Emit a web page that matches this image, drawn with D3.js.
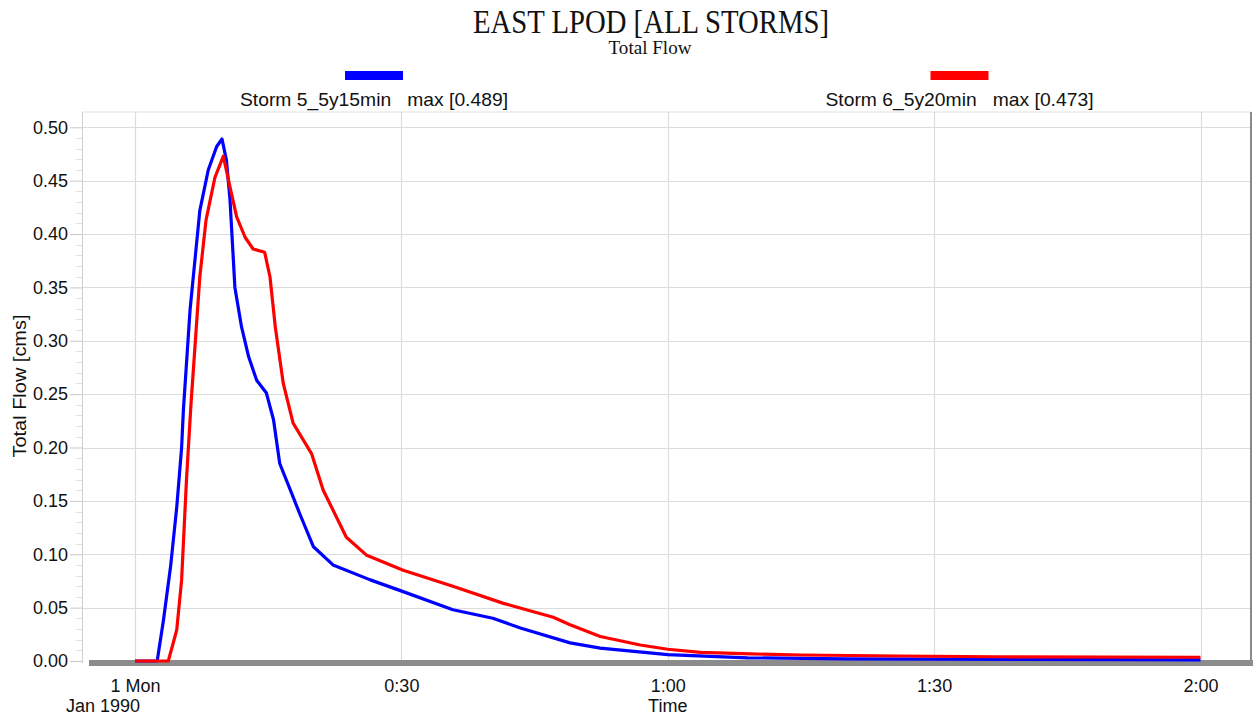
<!DOCTYPE html>
<html>
<head>
<meta charset="utf-8">
<script src="https://cdn.jsdelivr.net/npm/d3@7"></script>
<style>
  body { margin: 0; background: #fff; }
  svg { display: block; }
</style>
</head>
<body>
<svg id="chart" width="1255" height="715"></svg>
<script>
// ---- data (minutes after 1 Mon Jan 1990 00:00, flow in cms) ----
const blueTimes = [0, 2.5, 3.2, 4.0, 4.7, 5.25, 5.45, 6.2, 7.3, 8.25, 9.2, 9.8, 10.3, 10.7, 11.25, 12.0, 12.8, 13.7, 14.8, 15.6, 16.3, 17.5, 18.6, 20.1, 22.3, 26.5, 30.2, 35.8, 40.3, 43.4, 49.0, 52.4, 60, 69, 80, 100, 120];
const blueValues = [0, 0, 0.038, 0.088, 0.144, 0.200, 0.235, 0.329, 0.422, 0.460, 0.482, 0.489, 0.469, 0.432, 0.350, 0.313, 0.285, 0.263, 0.251, 0.226, 0.185, 0.160, 0.137, 0.107, 0.090, 0.076, 0.065, 0.048, 0.040, 0.031, 0.017, 0.012, 0.006, 0.003, 0.002, 0.0015, 0.001];
const redTimes = [0, 3.75, 4.7, 5.25, 5.8, 6.3, 7.3, 8.0, 9.0, 9.95, 10.7, 11.45, 12.4, 13.3, 14.6, 15.2, 15.8, 16.7, 17.8, 19.9, 21.2, 23.8, 26.1, 30.2, 35.8, 41.5, 47.1, 49.0, 52.4, 56.9, 60, 63.7, 69.4, 75, 86, 97, 120];
const redValues = [0, 0, 0.029, 0.076, 0.170, 0.240, 0.360, 0.413, 0.453, 0.473, 0.444, 0.416, 0.397, 0.386, 0.383, 0.360, 0.313, 0.260, 0.223, 0.194, 0.160, 0.116, 0.099, 0.085, 0.070, 0.054, 0.041, 0.034, 0.023, 0.015, 0.011, 0.008, 0.0066, 0.0056, 0.0047, 0.004, 0.0035];
const seriesNames = ["Storm 5_5y15min   max [0.489]", "Storm 6_5y20min   max [0.473]"];
const seriesColors = ["#0000ff", "#ff0000"];
const yTicks = [0, 0.05, 0.10, 0.15, 0.20, 0.25, 0.30, 0.35, 0.40, 0.45, 0.50];
const xTicks = [0, 30, 60, 90, 120];
const xTickLabels = ["1 Mon", "0:30", "1:00", "1:30", "2:00"];
const titleText = "EAST LPOD [ALL STORMS]";
const subtitleText = "Total Flow";
const yAxisTitle = "Total Flow [cms]";
const xAxisTitle = "Time";
const dateLabel = "Jan 1990";

(function () {
// ---- layout ----
const svg = d3.select("#chart");
const pLeft = 82, pRight = 1251, pTop = 112, pBottom = 661;
const x = d3.scaleLinear().domain([0, 120]).range([135, 1200.5]);
const y = d3.scaleLinear().domain([0, 0.5]).range([pBottom, 127.3]);
const sans = "Liberation Sans, Arial, sans-serif";
const serif = "Liberation Serif, Times New Roman, serif";

// plot frame top line
svg.append("line").attr("x1", pLeft).attr("x2", pRight).attr("y1", pTop).attr("y2", pTop)
  .attr("stroke", "#e0e0e0").attr("stroke-width", 1);

// horizontal gridlines
svg.append("g").selectAll("line").data(yTicks.filter(d => d > 0)).join("line")
  .attr("x1", pLeft).attr("x2", pRight)
  .attr("y1", d => Math.round(y(d)) + 0.5).attr("y2", d => Math.round(y(d)) + 0.5)
  .attr("stroke", "#dcdcdc").attr("stroke-width", 1.2);

// vertical gridlines
svg.append("g").selectAll("line").data(xTicks).join("line")
  .attr("x1", d => Math.round(x(d)) + 0.5).attr("x2", d => Math.round(x(d)) + 0.5)
  .attr("y1", pTop).attr("y2", pBottom)
  .attr("stroke", "#dcdcdc").attr("stroke-width", 1.2);

// left axis line
svg.append("line").attr("x1", pLeft + 0.5).attr("x2", pLeft + 0.5).attr("y1", pTop).attr("y2", pBottom + 2)
  .attr("stroke", "#cfcfcf").attr("stroke-width", 1);

// right border
svg.append("line").attr("x1", pRight).attr("x2", pRight).attr("y1", pTop).attr("y2", pBottom + 4)
  .attr("stroke", "#8a8a8a").attr("stroke-width", 2);

// y axis via d3
const yAxis = d3.axisLeft(y).tickValues(yTicks).tickFormat(d3.format(".2f")).tickSize(12).tickPadding(2);
const gy = svg.append("g").attr("transform", `translate(${pLeft},0)`).call(yAxis);
gy.select(".domain").remove();
gy.selectAll(".tick line").attr("stroke", "#c8c8c8");
gy.selectAll(".tick text").attr("font-family", sans).attr("font-size", 18).attr("fill", "#111");

// minor ticks
const minor = d3.range(0, 0.5001, 0.01).filter(v => Math.abs(v * 20 - Math.round(v * 20)) > 1e-6);
svg.append("g").selectAll("line").data(minor).join("line")
  .attr("x1", pLeft - 6).attr("x2", pLeft)
  .attr("y1", d => Math.round(y(d)) + 0.5).attr("y2", d => Math.round(y(d)) + 0.5)
  .attr("stroke", "#e2e2e2");

// x axis bar
svg.append("rect").attr("x", 89).attr("y", 660).attr("width", 1164).attr("height", 6).attr("fill", "#8c8c8c");

// x tick labels
const xAxis = d3.axisBottom(x).tickValues(xTicks).tickFormat((d, i) => xTickLabels[i]).tickSize(0).tickPadding(14);
const gx = svg.append("g").attr("transform", `translate(0,${pBottom + 4})`).call(xAxis);
gx.select(".domain").remove();
gx.selectAll(".tick text").attr("font-family", sans).attr("font-size", 18).attr("fill", "#111");

svg.append("text").attr("x", 103).attr("y", 712).attr("text-anchor", "middle")
  .attr("font-family", sans).attr("font-size", 18).attr("fill", "#111").text(dateLabel);
svg.append("text").attr("x", x(60)).attr("y", 712).attr("text-anchor", "middle")
  .attr("font-family", sans).attr("font-size", 18).attr("fill", "#111").text(xAxisTitle);

// y axis title
svg.append("text").attr("transform", "translate(26,386) rotate(-90)").attr("text-anchor", "middle")
  .attr("font-family", sans).attr("font-size", 18).attr("fill", "#111")
  .attr("textLength", 143).attr("lengthAdjust", "spacingAndGlyphs").text(yAxisTitle);

// title
svg.append("text").attr("x", 651).attr("y", 33).attr("text-anchor", "middle")
  .attr("font-family", serif).attr("font-size", 34).attr("fill", "#111")
  .attr("textLength", 356).attr("lengthAdjust", "spacingAndGlyphs").text(titleText);
svg.append("text").attr("x", 650).attr("y", 54).attr("text-anchor", "middle")
  .attr("font-family", serif).attr("font-size", 18).attr("fill", "#111")
  .attr("textLength", 83).attr("lengthAdjust", "spacingAndGlyphs").text(subtitleText);

// legend
const legendCenters = [374, 959.5];
legendCenters.forEach((cx, i) => {
  svg.append("rect").attr("x", cx - 29).attr("y", 71).attr("width", 58).attr("height", 9).attr("fill", seriesColors[i]);
  svg.append("text").attr("x", cx).attr("y", 106).attr("text-anchor", "middle")
    .attr("font-family", sans).attr("font-size", 19).attr("fill", "#111")
    .attr("textLength", 268).attr("lengthAdjust", "spacingAndGlyphs")
    .style("white-space", "pre").text(seriesNames[i]);
});

// lines
const line = d3.line().x(d => x(d[0])).y(d => y(d[1]));
const blueData = blueTimes.map((t, i) => [t, blueValues[i]]);
const redData = redTimes.map((t, i) => [t, redValues[i]]);
[blueData, redData].forEach((data, i) => {
  svg.append("path").datum(data).attr("d", line).attr("fill", "none")
    .attr("stroke", seriesColors[i]).attr("stroke-width", 3.2).attr("stroke-linejoin", "round");
});
})();
</script>
</body>
</html>
